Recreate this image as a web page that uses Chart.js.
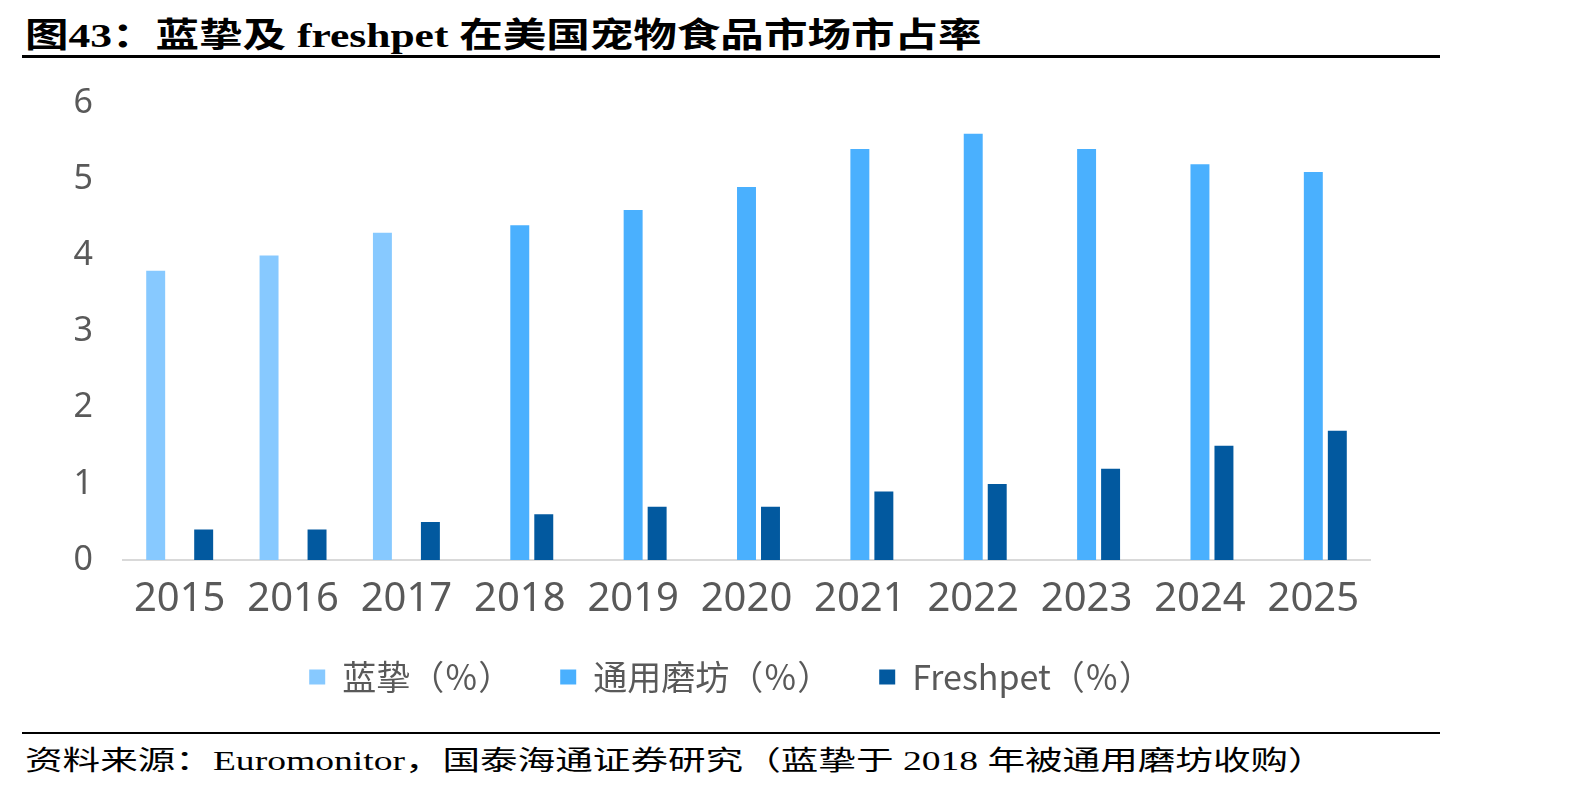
<!DOCTYPE html>
<html>
<head>
<meta charset="utf-8">
<script src="https://cdn.jsdelivr.net/npm/chart.js@4/dist/chart.umd.min.js"></script>
<style>
  html, body { margin: 0; padding: 0; background: #fff; }
  body { width: 1594px; height: 792px; position: relative; overflow: hidden; }
  .txt { position: absolute; white-space: nowrap; color: #000; transform-origin: left center; }
  #title { left: 25px; top: 8px; line-height: 40px; font: bold 34px "Liberation Serif", "Noto Sans CJK SC", serif; }
  #source { left: 25px; top: 739px; line-height: 34px; font: 27px "Liberation Serif", "Noto Sans CJK SC", serif; }
  .rule { position: absolute; left: 22px; width: 1418px; background: #000; }
  #wrap { position: absolute; left: 0; top: 53px; width: 1420px; height: 651px; }
</style>
</head>
<body>
<div class="txt" id="title">图43：蓝挚及 freshpet 在美国宠物食品市场市占率</div>
<div id="wrap"><canvas id="chart"></canvas></div>
<div class="rule" style="top:55px;height:3px"></div>
<div class="rule" style="top:732px;height:2px"></div>
<div class="txt" id="source">资料来源：Euromonitor，国泰海通证券研究（蓝挚于 2018 年被通用磨坊收购）</div>

<script>
const years = ["2015", "2016", "2017", "2018", "2019", "2020", "2021", "2022", "2023", "2024", "2025"];
const blueBuffalo = [3.8, 4.0, 4.3, null, null, null, null, null, null, null, null];
const generalMills = [null, null, null, 4.4, 4.6, 4.9, 5.4, 5.6, 5.4, 5.2, 5.1];
const freshpet = [0.4, 0.4, 0.5, 0.6, 0.7, 0.7, 0.9, 1.0, 1.2, 1.5, 1.7];
const seriesNames = ["蓝挚（％）", "通用磨坊（％）", "Freshpet（％）"];

const grey = "#595959";
const font = '"Noto Sans", "Noto Sans CJK SC", sans-serif';
const legendFont = '"Noto Sans CJK SC", sans-serif';

function fitText(id, targetWidth) {
    const el = document.getElementById(id);
    const w = el.scrollWidth;
    el.style.transform = "scaleX(" + (targetWidth / w) + ")";
}

const data = {
    labels: years,
    datasets: [
        { label: seriesNames[0], data: blueBuffalo, backgroundColor: "#87C9FF" },
        { label: seriesNames[1], data: generalMills, backgroundColor: "#4AB0FE" },
        { label: seriesNames[2], data: freshpet, backgroundColor: "#02599F" }
    ]
};

const config = {
    type: "bar",
    data: data,
    options: {
        responsive: true,
        maintainAspectRatio: false,
        animation: false,
        categoryPercentage: 0.635,
        barPercentage: 0.79,
        layout: { padding: { left: 42, right: 0, top: 43, bottom: 0 } },
        plugins: {
            tooltip: { enabled: false },
            legend: {
                position: "bottom",
                labels: {
                    boxWidth: 16,
                    boxHeight: 15,
                    padding: 48,
                    color: grey,
                    font: { family: legendFont, size: 34 }
                }
            }
        },
        scales: {
            x: {
                grid: { display: false, drawTicks: false },
                border: { display: true, color: "#D9D9D9", width: 2 },
                ticks: { color: grey, padding: 16, font: { family: font, size: 40 } },
                afterFit: scale => { scale.height = 52; }
            },
            y: {
                min: 0,
                max: 6,
                grid: { display: false, drawTicks: false },
                border: { display: false },
                ticks: { stepSize: 1, color: grey, padding: 30, font: { family: font, size: 34 } },
                afterFit: scale => { scale.width = 81; }
            },
            // empty right-hand axis, only reserves space to the right of the plot
            spacer: {
                position: "right",
                min: 0,
                max: 6,
                grid: { display: false, drawTicks: false },
                border: { display: false },
                ticks: { display: false },
                afterFit: scale => { scale.width = 50; }
            }
        }
    }
};

new Chart(document.getElementById("chart"), config);

document.fonts.ready.then(() => {
    fitText("title", 956);
    fitText("source", 1300);
});
</script>
</body>
</html>
